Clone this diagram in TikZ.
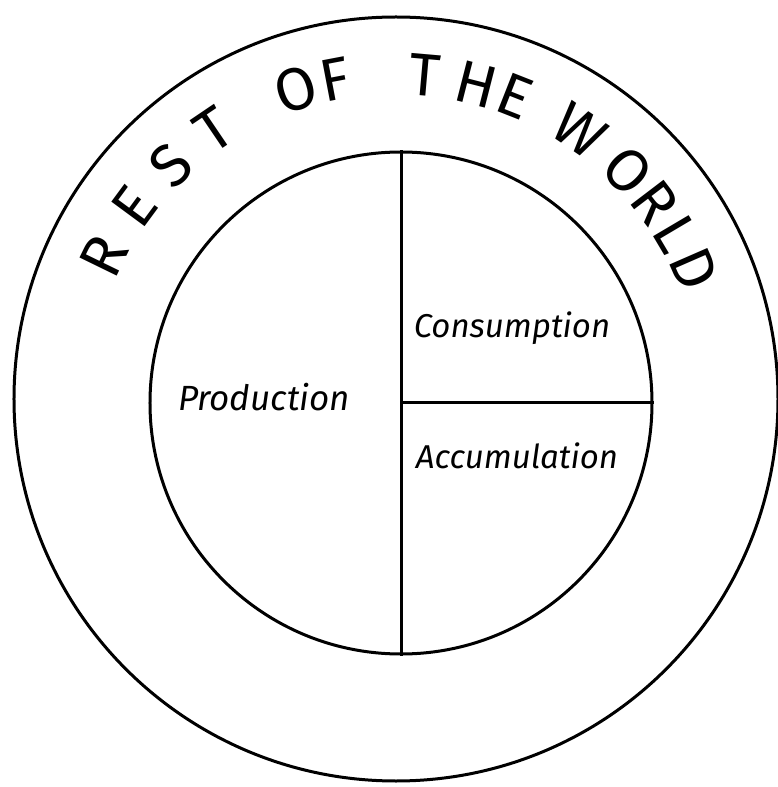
\documentclass[tikz,border=0pt]{standalone}
\usepackage{fontspec}
\setmainfont{Fira Sans}
\usetikzlibrary{calc}

\begin{document}
\begin{tikzpicture}[x=1pt, y=1pt, line width=3pt]
    % Define sizes
    \def\outerRadius{382}
    \def\innerRadius{251}
    \def\textRadius{325}

    \definecolor{lineColour}{HTML}{000000}

    \tikzset{
        ringLetter/.style={font=\fontsize{60}{64}\selectfont, text=lineColour, inner sep=0pt},
        sectorLabel/.style={font=\itshape\fontsize{33}{38}\selectfont, text=lineColour, inner sep=0pt}
    }

    % Fix the page size
    \useasboundingbox (-396,-388) rectangle (381,399);

    % Draw the two circles
    \node[circle, draw=lineColour, minimum size=2*\outerRadius, inner sep=0pt] (world) at (0,0) {};
    \node[circle, draw=lineColour, minimum size=2*\innerRadius, inner sep=0pt] (economy) at (5,-4) {};

    % Split the inner circle
    \draw[lineColour] (economy.north) -- (economy.south);
    \draw[lineColour] (economy.center) -- (economy.east);

    % Write the letters round the ring
    \foreach \ang/\ch [count=\i] in {154/R, 143.6/E, 133.9/S, 124.1/T,
                                     108/O, 100.8/F,
                                     85/T, 75.7/H, 68.5/E,
                                     55.6/W, 44.5/O, 37.3/R, 30.6/L, 23.6/D}
        \node[ringLetter, rotate=\ang-90] (letter\i) at (\ang:\textRadius) {\ch};

    % Label the sectors
    \node[sectorLabel, font=\itshape\fontsize{35}{40}\selectfont] (production) at (-132,2) {Production};
    \node[sectorLabel] (consumption) at (116,71) {Consumption};
    \node[sectorLabel] (accumulation) at (121,-57) {Accumulation};

\end{tikzpicture}
\end{document}
